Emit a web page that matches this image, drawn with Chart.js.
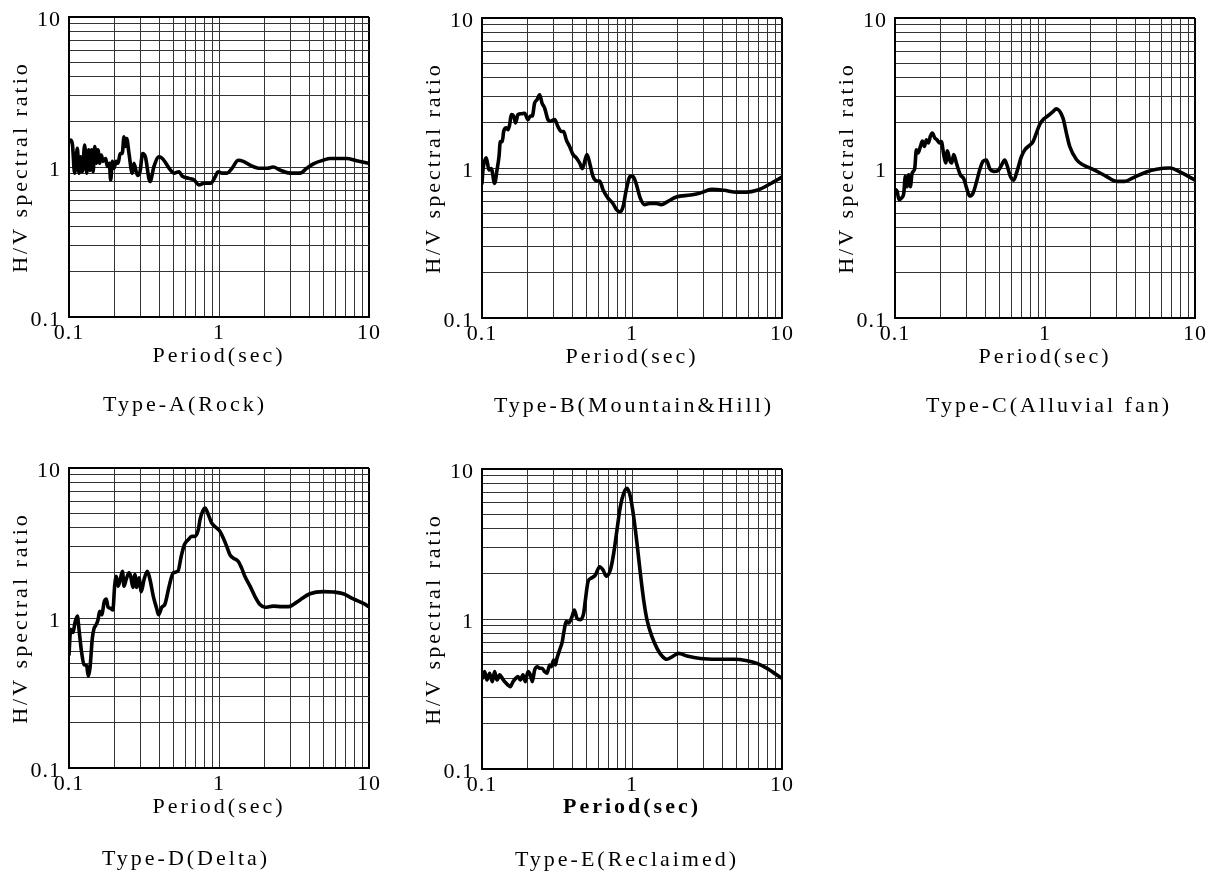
<!DOCTYPE html>
<html>
<head>
<meta charset="utf-8">
<title>H/V spectral ratio by site type</title>
<script src="https://cdn.jsdelivr.net/npm/chart.js@4.4.1/dist/chart.umd.min.js"></script>
<style>
  html, body { margin: 0; background: #fff; overflow: hidden; }
  canvas { position: absolute; }
</style>
</head>
<body>
<canvas id="typeA" width="386" height="432" style="left:0px;top:-1px"></canvas>
<canvas id="typeB" width="386" height="432" style="left:413px;top:0px"></canvas>
<canvas id="typeC" width="386" height="432" style="left:826px;top:0px"></canvas>
<canvas id="typeD" width="386" height="432" style="left:0px;top:450px"></canvas>
<canvas id="typeE" width="386" height="432" style="left:413px;top:451px"></canvas>
<script>
// values (period in sec, H/V ratio)
const periodA = [0.1, 0.1029, 0.1055, 0.109, 0.1137, 0.1166, 0.1196, 0.1227, 0.1272, 0.1311, 0.1352, 0.1379, 0.1413, 0.1448, 0.1484, 0.1522, 0.156, 0.1601, 0.1643, 0.1685, 0.1756, 0.1801, 0.1858, 0.1896, 0.1946, 0.1995, 0.206, 0.2126, 0.2194, 0.2264, 0.2326, 0.2376, 0.2426, 0.2512, 0.264, 0.2712, 0.2855, 0.2974, 0.3096, 0.3229, 0.3468, 0.3687, 0.3979, 0.419, 0.4764, 0.5013, 0.5412, 0.5688, 0.6305, 0.6817, 0.7352, 0.794, 0.88, 0.9484, 0.983, 1.05, 1.133, 1.22, 1.345, 1.452, 1.61, 1.876, 2.08, 2.3, 2.55, 2.97, 3.47, 3.84, 4.26, 4.96, 5.5, 7.1, 8.27, 10];
const ratioA = [1.47, 1.51, 1.40, 0.91, 1.33, 0.91, 1.17, 0.93, 1.40, 0.91, 1.30, 0.95, 1.30, 0.93, 1.37, 1.06, 1.30, 1.06, 1.20, 1.09, 1.14, 1.01, 1.06, 0.82, 1.09, 0.98, 1.09, 1.06, 1.23, 1.23, 1.59, 1.37, 1.55, 1.23, 0.91, 1.06, 0.88, 0.93, 1.23, 1.17, 0.80, 1.01, 1.17, 1.14, 0.95, 0.91, 0.93, 0.87, 0.84, 0.82, 0.76, 0.78, 0.78, 0.87, 0.93, 0.91, 0.91, 0.98, 1.11, 1.09, 1.03, 0.98, 0.98, 1.0, 0.955, 0.91, 0.91, 0.98, 1.05, 1.11, 1.14, 1.14, 1.1, 1.06];

const periodB = [0.1, 0.1015, 0.1068, 0.1113, 0.1153, 0.1214, 0.1259, 0.1298, 0.1325, 0.1366, 0.1394, 0.1452, 0.149, 0.1528, 0.1568, 0.1626, 0.1675, 0.1737, 0.1828, 0.1924, 0.2025, 0.21, 0.2164, 0.2243, 0.2324, 0.2423, 0.2512, 0.2616, 0.2753, 0.2853, 0.3049, 0.3209, 0.3379, 0.35, 0.3648, 0.3838, 0.4041, 0.4254, 0.4477, 0.4664, 0.501, 0.522, 0.5493, 0.584, 0.608, 0.64, 0.6914, 0.7465, 0.786, 0.827, 0.871, 0.917, 0.974, 1.015, 1.068, 1.135, 1.213, 1.309, 1.451, 1.567, 1.736, 1.97, 2.45, 2.85, 3.4, 4.1, 5.0, 5.8, 6.8, 7.9, 10];
const ratioB = [0.79, 0.97, 1.17, 0.97, 0.99, 0.79, 0.97, 1.19, 1.5, 1.5, 1.75, 1.85, 1.8, 1.94, 2.27, 2.22, 2.0, 2.27, 2.3, 2.32, 2.1, 2.22, 2.22, 2.71, 2.85, 3.08, 2.71, 2.51, 2.1, 2.05, 2.1, 1.89, 1.75, 1.75, 1.54, 1.39, 1.23, 1.17, 1.08, 0.99, 1.23, 1.08, 0.88, 0.82, 0.82, 0.72, 0.63, 0.58, 0.53, 0.51, 0.55, 0.72, 0.88, 0.88, 0.78, 0.63, 0.57, 0.58, 0.58, 0.57, 0.6, 0.64, 0.66, 0.68, 0.72, 0.71, 0.69, 0.69, 0.71, 0.76, 0.87];

const periodC = [0.1, 0.1032, 0.1064, 0.1103, 0.1143, 0.1172, 0.1202, 0.1234, 0.1266, 0.1299, 0.1353, 0.1388, 0.1424, 0.1476, 0.1522, 0.157, 0.1619, 0.1669, 0.1721, 0.1774, 0.1839, 0.1905, 0.1986, 0.2037, 0.2112, 0.2178, 0.2234, 0.2316, 0.2388, 0.2462, 0.2565, 0.2728, 0.287, 0.302, 0.3148, 0.3313, 0.3486, 0.3668, 0.3864, 0.4066, 0.428, 0.455, 0.4863, 0.5117, 0.5386, 0.5585, 0.5876, 0.6183, 0.651, 0.696, 0.7324, 0.7907, 0.832, 0.876, 0.922, 0.98, 1.047, 1.131, 1.19, 1.318, 1.389, 1.462, 1.62, 1.79, 2.09, 2.56, 2.99, 3.4, 3.86, 4.74, 5.53, 6.78, 8.3, 10];
const ratioC = [0.72, 0.70, 0.615, 0.63, 0.675, 0.88, 0.75, 0.90, 0.75, 0.92, 0.99, 1.32, 1.26, 1.39, 1.51, 1.39, 1.54, 1.47, 1.63, 1.71, 1.59, 1.54, 1.47, 1.50, 1.23, 1.08, 1.30, 1.13, 1.08, 1.23, 1.08, 0.90, 0.85, 0.72, 0.65, 0.68, 0.80, 0.97, 1.11, 1.13, 0.99, 0.95, 0.96, 1.04, 1.13, 1.04, 0.88, 0.83, 0.95, 1.19, 1.32, 1.42, 1.50, 1.71, 1.95, 2.12, 2.23, 2.38, 2.48, 2.15, 1.71, 1.39, 1.14, 1.05, 0.98, 0.88, 0.815, 0.815, 0.86, 0.94, 0.98, 1.0, 0.92, 0.83];

const periodD = [0.1, 0.1026, 0.1063, 0.1096, 0.1137, 0.1166, 0.1211, 0.1258, 0.1311, 0.1345, 0.1382, 0.143, 0.1468, 0.1506, 0.156, 0.1601, 0.165, 0.1721, 0.1774, 0.1821, 0.1896, 0.1961, 0.2015, 0.2069, 0.2126, 0.2194, 0.2273, 0.2326, 0.2403, 0.2512, 0.2577, 0.2669, 0.2751, 0.2822, 0.2926, 0.3033, 0.3162, 0.333, 0.347, 0.3652, 0.3838, 0.3956, 0.4155, 0.4365, 0.4653, 0.4954, 0.5325, 0.5595, 0.5877, 0.6245, 0.658, 0.692, 0.728, 0.747, 0.786, 0.807, 0.849, 0.893, 0.965, 1.015, 1.068, 1.126, 1.184, 1.245, 1.345, 1.416, 1.49, 1.61, 1.738, 1.876, 2.026, 2.3, 2.62, 2.9, 3.13, 3.47, 4.04, 4.96, 5.78, 6.74, 7.86, 9.17, 10];
const ratioD = [0.57, 0.84, 0.80, 0.93, 1.03, 0.84, 0.60, 0.49, 0.48, 0.41, 0.47, 0.73, 0.85, 0.89, 0.97, 1.11, 1.05, 1.29, 1.34, 1.18, 1.16, 1.13, 1.63, 1.9, 1.63, 1.8, 2.05, 1.63, 1.8, 2.0, 1.9, 1.6, 1.95, 1.6, 1.85, 1.5, 1.8, 2.05, 1.8, 1.39, 1.16, 1.05, 1.18, 1.24, 1.63, 2.0, 2.05, 2.57, 3.08, 3.33, 3.5, 3.5, 3.88, 4.52, 5.27, 5.41, 4.89, 4.3, 3.98, 3.78, 3.41, 3.0, 2.64, 2.51, 2.38, 2.15, 1.89, 1.63, 1.39, 1.23, 1.18, 1.2, 1.19, 1.19, 1.23, 1.32, 1.45, 1.5, 1.49, 1.45, 1.34, 1.25, 1.19];

const periodE = [0.1, 0.1041, 0.1079, 0.1124, 0.1171, 0.1214, 0.1259, 0.1311, 0.1366, 0.1416, 0.149, 0.1544, 0.1609, 0.1676, 0.1737, 0.18, 0.1876, 0.1944, 0.2025, 0.2099, 0.2164, 0.2243, 0.2337, 0.2423, 0.2512, 0.2617, 0.2711, 0.2825, 0.2897, 0.3003, 0.3081, 0.316, 0.3293, 0.343, 0.35, 0.365, 0.378, 0.398, 0.4128, 0.43, 0.4525, 0.476, 0.489, 0.509, 0.533, 0.5695, 0.608, 0.641, 0.674, 0.717, 0.755, 0.794, 0.836, 0.88, 0.926, 0.975, 1.026, 1.08, 1.137, 1.196, 1.259, 1.359, 1.468, 1.585, 1.71, 1.848, 2.05, 2.326, 2.855, 3.69, 4.76, 5.85, 6.81, 7.94, 10];
const ratioE = [0.40, 0.446, 0.392, 0.435, 0.382, 0.446, 0.392, 0.425, 0.402, 0.382, 0.363, 0.354, 0.382, 0.402, 0.413, 0.392, 0.425, 0.382, 0.446, 0.425, 0.382, 0.457, 0.481, 0.47, 0.47, 0.446, 0.435, 0.494, 0.481, 0.533, 0.494, 0.547, 0.622, 0.706, 0.80, 0.96, 0.94, 1.036, 1.148, 1.01, 0.99, 1.09, 1.339, 1.773, 1.87, 1.96, 2.23, 2.12, 1.93, 2.12, 2.74, 3.92, 5.61, 6.89, 7.43, 6.54, 4.81, 3.19, 2.01, 1.339, 0.985, 0.762, 0.637, 0.567, 0.539, 0.56, 0.59, 0.567, 0.545, 0.539, 0.539, 0.527, 0.506, 0.469, 0.402];

// log grid: every 1..9 step per decade, labels only at the decades
const gridTicks = [0.1, 0.2, 0.3, 0.4, 0.5, 0.6, 0.7, 0.8, 0.9, 1, 2, 3, 4, 5, 6, 7, 8, 9, 10];
const labelledTicks = [0.1, 1, 10];

const FONT = '"Liberation Serif", "DejaVu Serif", serif';

const panels = [
  { id: "typeA", period: periodA, ratio: ratioA, caption: "Type-A(Rock)", shift: -34, drop: 88, boldX: false },
  { id: "typeB", period: periodB, ratio: ratioB, caption: "Type-B(Mountain&Hill)", shift: 2, drop: 88, boldX: false },
  { id: "typeC", period: periodC, ratio: ratioC, caption: "Type-C(Alluvial fan)", shift: 4, drop: 88, boldX: false },
  { id: "typeD", period: periodD, ratio: ratioD, caption: "Type-D(Delta)", shift: -33, drop: 91, boldX: false },
  { id: "typeE", period: periodE, ratio: ratioE, caption: "Type-E(Reclaimed)", shift: -5, drop: 91, boldX: true },
];

const isEdge = (v) => v === 0.1 || v === 10;

function setGridTicks(scale) {
  scale.ticks = gridTicks.map((v) => ({ value: v, major: labelledTicks.includes(v) }));
}

function axisCommon() {
  return {
    type: "logarithmic",
    min: 0.1,
    max: 10,
    afterBuildTicks: setGridTicks,
    grid: {
      drawTicks: false,
      color: (c) => (c.tick && isEdge(c.tick.value) ? "#000" : "#333"),
      lineWidth: (c) => (c.tick && isEdge(c.tick.value) ? 2 : 1),
    },
    border: { color: "#000", width: 2 },
  };
}

function tickOptions(extra) {
  return Object.assign({
    autoSkip: false,
    maxRotation: 0,
    color: "#000",
    z: 1,
    font: { family: FONT, size: 22 },
    callback: (v) => (labelledTicks.includes(v) ? String(v) : ""),
  }, extra);
}

// titles are spaced out like the scan; tick digits are not
const spacedText = {
  id: "spacedText",
  beforeDraw(chart) {
    chart.ctx.letterSpacing = "3px";
  },
  afterDatasetsDraw(chart) {
    chart.ctx.letterSpacing = "1px";
  },
  afterDraw(chart, args, opts) {
    const { ctx, chartArea } = chart;
    ctx.save();
    ctx.letterSpacing = "3px";
    ctx.font = `22px ${FONT}`;
    ctx.fillStyle = "#000";
    ctx.textAlign = "center";
    ctx.textBaseline = "middle";
    ctx.fillText(opts.text, (chartArea.left + chartArea.right) / 2 + opts.shift, chartArea.bottom + opts.drop);
    ctx.restore();
    ctx.letterSpacing = "0px";
  },
};

function buildPanel(p) {
  const points = p.period.map((x, i) => ({ x, y: p.ratio[i] }));

  return new Chart(document.getElementById(p.id), {
    type: "line",
    data: {
      datasets: [
        {
          data: points,
          borderColor: "#000",
          borderWidth: 3.6,
          pointRadius: 0,
          fill: false,
          cubicInterpolationMode: "monotone",
          borderJoinStyle: "round",
          borderCapStyle: "round",
        },
      ],
    },
    options: {
      responsive: false,
      animation: false,
      devicePixelRatio: 1,
      events: [],
      layout: { padding: { left: 0, top: 18, right: 17, bottom: 62 } },
      plugins: {
        legend: { display: false },
        tooltip: { enabled: false },
        spacedText: { text: p.caption, shift: p.shift, drop: p.drop },
      },
      scales: {
        x: Object.assign(axisCommon(), {
          afterFit: (s) => { s.height = 52; s.paddingLeft = 0; s.paddingRight = 0; },
          ticks: tickOptions({ padding: 3 }),
          title: {
            display: true,
            text: "Period(sec)",
            color: "#000",
            padding: 0,
            font: { family: FONT, size: 22, weight: p.boldX ? "bold" : "normal" },
          },
        }),
        y: Object.assign(axisCommon(), {
          afterFit: (s) => { s.width = 69; s.paddingTop = 0; s.paddingBottom = 0; },
          ticks: tickOptions({ padding: 8, labelOffset: 3 }),
          title: {
            display: true,
            text: "H/V spectral ratio",
            color: "#000",
            padding: { top: 8, bottom: 0 },
            font: { family: FONT, size: 22 },
          },
        }),
      },
    },
    plugins: [spacedText],
  });
}

panels.forEach(buildPanel);
</script>
</body>
</html>
